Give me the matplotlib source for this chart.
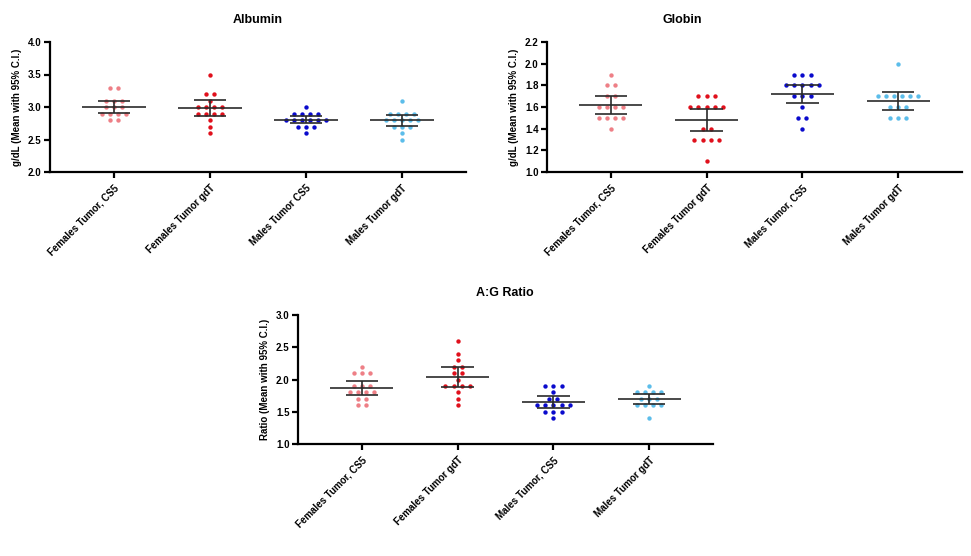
import numpy as np
import matplotlib
matplotlib.use("Agg")
import matplotlib.pyplot as plt

plt.rcParams['font.family'] = ['Liberation Sans', 'DejaVu Sans']
plt.rcParams['font.weight'] = 'bold'

# --- Data ---
albumin_labels = ["Females Tumor, CS5", "Females Tumor gdT", "Males Tumor CS5", "Males Tumor gdT"]
globin_labels = ["Females Tumor, CS5", "Females Tumor gdT", "Males Tumor, CS5", "Males Tumor gdT"]
ag_labels = ["Females Tumor, CS5", "Females Tumor gdT", "Males Tumor, CS5", "Males Tumor gdT"]

colors = ["#EE7F86", "#E0101C", "#0A0ACC", "#5CBDEA"]

albumin_f_cs5 = [3.3]*2 + [3.1]*3 + [3.0]*3 + [2.9]*4 + [2.8]*2
albumin_f_gdt = [3.5] + [3.2]*2 + [3.1] + [3.0]*4 + [2.9]*4 + [2.8, 2.7, 2.6]
albumin_m_cs5 = [3.0] + [2.9]*4 + [2.8]*6 + [2.7]*3 + [2.6]
albumin_m_gdt = [3.1] + [2.9]*4 + [2.8]*5 + [2.7]*3 + [2.6, 2.5]

globin_f_cs5 = [1.9] + [1.8]*2 + [1.7]*2 + [1.6]*4 + [1.5]*4 + [1.4]
globin_f_gdt = [1.7]*3 + [1.6]*5 + [1.4]*2 + [1.3]*4 + [1.1]
globin_m_cs5 = [1.9]*3 + [1.8]*5 + [1.7]*3 + [1.6] + [1.5]*2 + [1.4]
globin_m_gdt = [2.0] + [1.7]*6 + [1.6]*3 + [1.5]*3

ag_f_cs5 = [2.2] + [2.1]*3 + [1.9]*3 + [1.8]*4 + [1.7]*2 + [1.6]*2
ag_f_gdt = [2.6, 2.4, 2.3] + [2.2]*2 + [2.1]*2 + [2.0] + [1.9]*4 + [1.8, 1.7, 1.6]
ag_m_cs5 = [1.9]*3 + [1.8] + [1.7]*2 + [1.6]*5 + [1.5]*3 + [1.4]
ag_m_gdt = [1.9] + [1.8]*4 + [1.7]*3 + [1.6]*4 + [1.4]

# two-sided 95% t critical values by degrees of freedom
T95 = {10: 2.228, 11: 2.201, 12: 2.179, 13: 2.160, 14: 2.145, 15: 2.131, 16: 2.120, 17: 2.110, 18: 2.101}


def swarm_offsets(vals, step=0.085):
    """Center points sharing the same value side by side (beeswarm-like)."""
    vals = np.asarray(vals)
    offs = np.zeros(len(vals))
    for v in np.unique(vals):
        idx = np.where(np.isclose(vals, v))[0]
        n = len(idx)
        offs[idx] = (np.arange(n) - (n - 1) / 2) * step
    return offs


def draw_panel(ax, groups, labels, title, ylabel, ylim, yticks, title_x):
    for i, vals in enumerate(groups):
        vals = np.asarray(vals)
        ax.scatter(i + swarm_offsets(vals), vals, s=10, color=colors[i],
                   linewidths=0, zorder=2)
        m = vals.mean()
        half = T95[len(vals) - 1] * vals.std(ddof=1) / np.sqrt(len(vals))
        ax.hlines(m, i - 0.33, i + 0.33, color="#2a2a2a", lw=1.2, zorder=3)
        ax.hlines([m - half, m + half], i - 0.17, i + 0.17, color="#2a2a2a", lw=1.2, zorder=3)
        ax.vlines(i, m - half, m + half, color="#2a2a2a", lw=1.2, zorder=3)

    ax.set_xlim(-0.667, 3.667)
    ax.set_ylim(*ylim)
    ax.set_yticks(yticks)
    ax.set_yticklabels([f"{t:.1f}" for t in yticks], fontsize=7, fontweight='bold')
    ax.set_xticks(range(len(labels)))
    ax.set_xticklabels(labels, rotation=45, ha='right', va='top',
                       rotation_mode='anchor', fontsize=7, fontweight='bold')
    for lab in ax.get_xticklabels():
        lab.set_x(lab.get_position()[0])
    ax.set_ylabel(ylabel, fontsize=7, fontweight='bold', labelpad=4)
    for s in ["top", "right"]:
        ax.spines[s].set_visible(False)
    for s in ["left", "bottom"]:
        ax.spines[s].set_linewidth(1.6)
    ax.tick_params(width=1.6, length=4, pad=2)
    ax.tick_params(axis='x', pad=4)
    fig = ax.figure
    pos = ax.get_position()
    fig.text(title_x, pos.y1 + 22 / 556, title, ha='center', va='center',
             fontsize=9, fontweight='bold')


W, H = 971, 556
fig = plt.figure(figsize=(W / 100, H / 100), dpi=100)


def axes_px(left, right, top, bottom):
    return fig.add_axes([left / W, 1 - bottom / H, (right - left) / W, (bottom - top) / H])


ax1 = axes_px(50, 466, 42, 172)
draw_panel(ax1, [albumin_f_cs5, albumin_f_gdt, albumin_m_cs5, albumin_m_gdt], albumin_labels,
           "Albumin", "g/dL (Mean with 95% C.I.)", (2.0, 4.0),
           [2.0, 2.5, 3.0, 3.5, 4.0], 258 / W)

ax2 = axes_px(547, 962, 42, 172)
draw_panel(ax2, [globin_f_cs5, globin_f_gdt, globin_m_cs5, globin_m_gdt], globin_labels,
           "Globin", "g/dL (Mean with 95% C.I.)", (1.0, 2.2),
           [1.0, 1.2, 1.4, 1.6, 1.8, 2.0, 2.2], 682 / W)

ax3 = axes_px(298, 713, 315, 444)
draw_panel(ax3, [ag_f_cs5, ag_f_gdt, ag_m_cs5, ag_m_gdt], ag_labels,
           "A:G Ratio", "Ratio (Mean with 95% C.I.)", (1.0, 3.0),
           [1.0, 1.5, 2.0, 2.5, 3.0], 505 / W)

fig.savefig("out.png", dpi=100)
